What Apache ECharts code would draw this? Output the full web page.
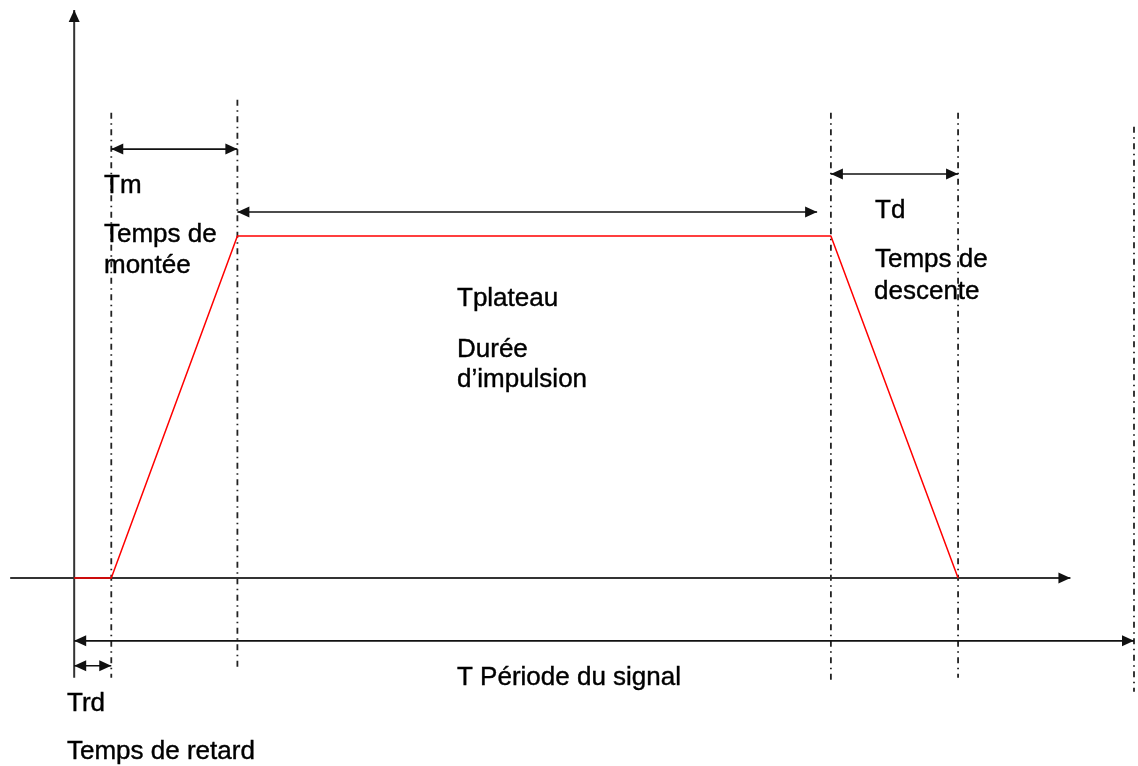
<!DOCTYPE html>
<html>
<head>
<meta charset="utf-8">
<script src="https://cdn.jsdelivr.net/npm/echarts@6/dist/echarts.min.js"></script>
<style>
  html, body { margin: 0; padding: 0; background: #ffffff; }
  #chart { width: 1138px; height: 766px; }
</style>
</head>
<body>
<div id="chart"></div>
<script>
// ---- Data (time in arbitrary units, amplitude normalised 0..1) ----
const signalTime = [0, 3.5, 15.4, 71.4, 83.4];      // t0, end of delay, end of rise, end of plateau, end of fall
const signalLevel = [0, 0, 1, 1, 0];
const markerTimes = [3.5, 15.4, 71.4, 83.4, 100];   // dash-dot guide lines
const markerTop = [1.36, 1.398, 1.36, 1.36, 1.319];
const markerBottom = [-0.292, -0.26, -0.298, -0.292, -0.333];
// double arrows: [start, end, level]
const spanStart = [3.5, 15.4, 71.4, 0, 0];
const spanEnd = [15.4, 70.1, 83.4, 100, 3.5];
const spanLevel = [1.254, 1.07, 1.181, -0.184, -0.257];
// axes: [x1, y1, x2, y2] (arrow head at second point)
const axisSegments = [[0, -0.292, 0, 1.661], [-6.04, 0, 94.0, 0]];
// annotation texts
const annotationTexts = ['Tm', 'Temps de', 'montée', 'Tplateau', 'Durée', 'd’impulsion',
  'Td', 'Temps de', 'descente', 'T Période du signal', 'Trd', 'Temps de retard'];

// layout of annotations (pixels: left, vertical middle)
const annotationPos = [[104, 186], [104, 235], [104, 266], [457, 299], [457, 350], [457, 380],
  [875, 211], [875, 260], [874, 292], [457, 678], [67, 704], [67, 752]];

const chart = echarts.init(document.getElementById('chart'), null, { renderer: 'canvas' });

function head(tip, from, len, hw, color) {
  const dx = tip[0] - from[0], dy = tip[1] - from[1];
  const d = Math.sqrt(dx * dx + dy * dy) || 1;
  const ux = dx / d, uy = dy / d;
  const bx = tip[0] - ux * len, by = tip[1] - uy * len;
  return {
    type: 'polygon',
    shape: { points: [[tip[0], tip[1]], [bx - uy * hw, by + ux * hw], [bx + uy * hw, by - ux * hw]] },
    style: { fill: color }
  };
}

const spanData = spanStart.map((s, i) => [s, spanEnd[i], spanLevel[i]]);
const markerData = markerTimes.map((t, i) => [t, markerBottom[i], markerTop[i]]);

const option = {
  animation: false,
  backgroundColor: '#ffffff',
  grid: { left: 0, right: 4, top: 0, bottom: 0 },
  xAxis: { type: 'value', min: -7, max: 100, show: false },
  yAxis: { type: 'value', min: -0.55, max: 1.69, show: false },
  series: [
    {
      type: 'custom',
      name: 'guides',
      data: markerData,
      renderItem: function (params, api) {
        const a = api.coord([api.value(0), api.value(2)]);
        const b = api.coord([api.value(0), api.value(1)]);
        return {
          type: 'line',
          shape: { x1: a[0], y1: a[1], x2: b[0], y2: b[1] },
          style: { stroke: '#222', lineWidth: 1.8, lineDash: [6, 4.5, 1.5, 4.5], fill: null }
        };
      },
      z: 1
    },
    {
      type: 'custom',
      name: 'axes',
      data: axisSegments,
      renderItem: function (params, api) {
        const a = api.coord([api.value(0), api.value(1)]);
        const b = api.coord([api.value(2), api.value(3)]);
        return {
          type: 'group',
          children: [
            { type: 'line', shape: { x1: a[0], y1: a[1], x2: b[0], y2: b[1] }, style: { stroke: '#333', lineWidth: 2 } },
            head(b, a, 12, 5.5, '#111')
          ]
        };
      },
      z: 2
    },
    {
      type: 'custom',
      name: 'spans',
      data: spanData,
      renderItem: function (params, api) {
        const a = api.coord([api.value(0), api.value(2)]);
        const b = api.coord([api.value(1), api.value(2)]);
        return {
          type: 'group',
          children: [
            { type: 'line', shape: { x1: a[0], y1: a[1], x2: b[0], y2: b[1] }, style: { stroke: '#111', lineWidth: 1.6 } },
            head(a, b, 12, 5.5, '#111'),
            head(b, a, 12, 5.5, '#111')
          ]
        };
      },
      z: 3
    },
    {
      type: 'line',
      name: 'signal',
      data: signalTime.map((t, i) => [t, signalLevel[i]]),
      symbol: 'none',
      lineStyle: { color: '#ff0000', width: 1.5 },
      z: 4
    }
  ],
  graphic: annotationTexts.map((txt, i) => ({
    type: 'text',
    x: annotationPos[i][0],
    y: annotationPos[i][1],
    z: 10,
    style: {
      text: txt,
      font: '26px "Liberation Sans", Arial, sans-serif',
      fill: '#000',
      stroke: '#000',
      lineWidth: 0.4,
      align: 'left',
      verticalAlign: 'middle'
    }
  }))
};
chart.setOption(option);
</script>
</body>
</html>
